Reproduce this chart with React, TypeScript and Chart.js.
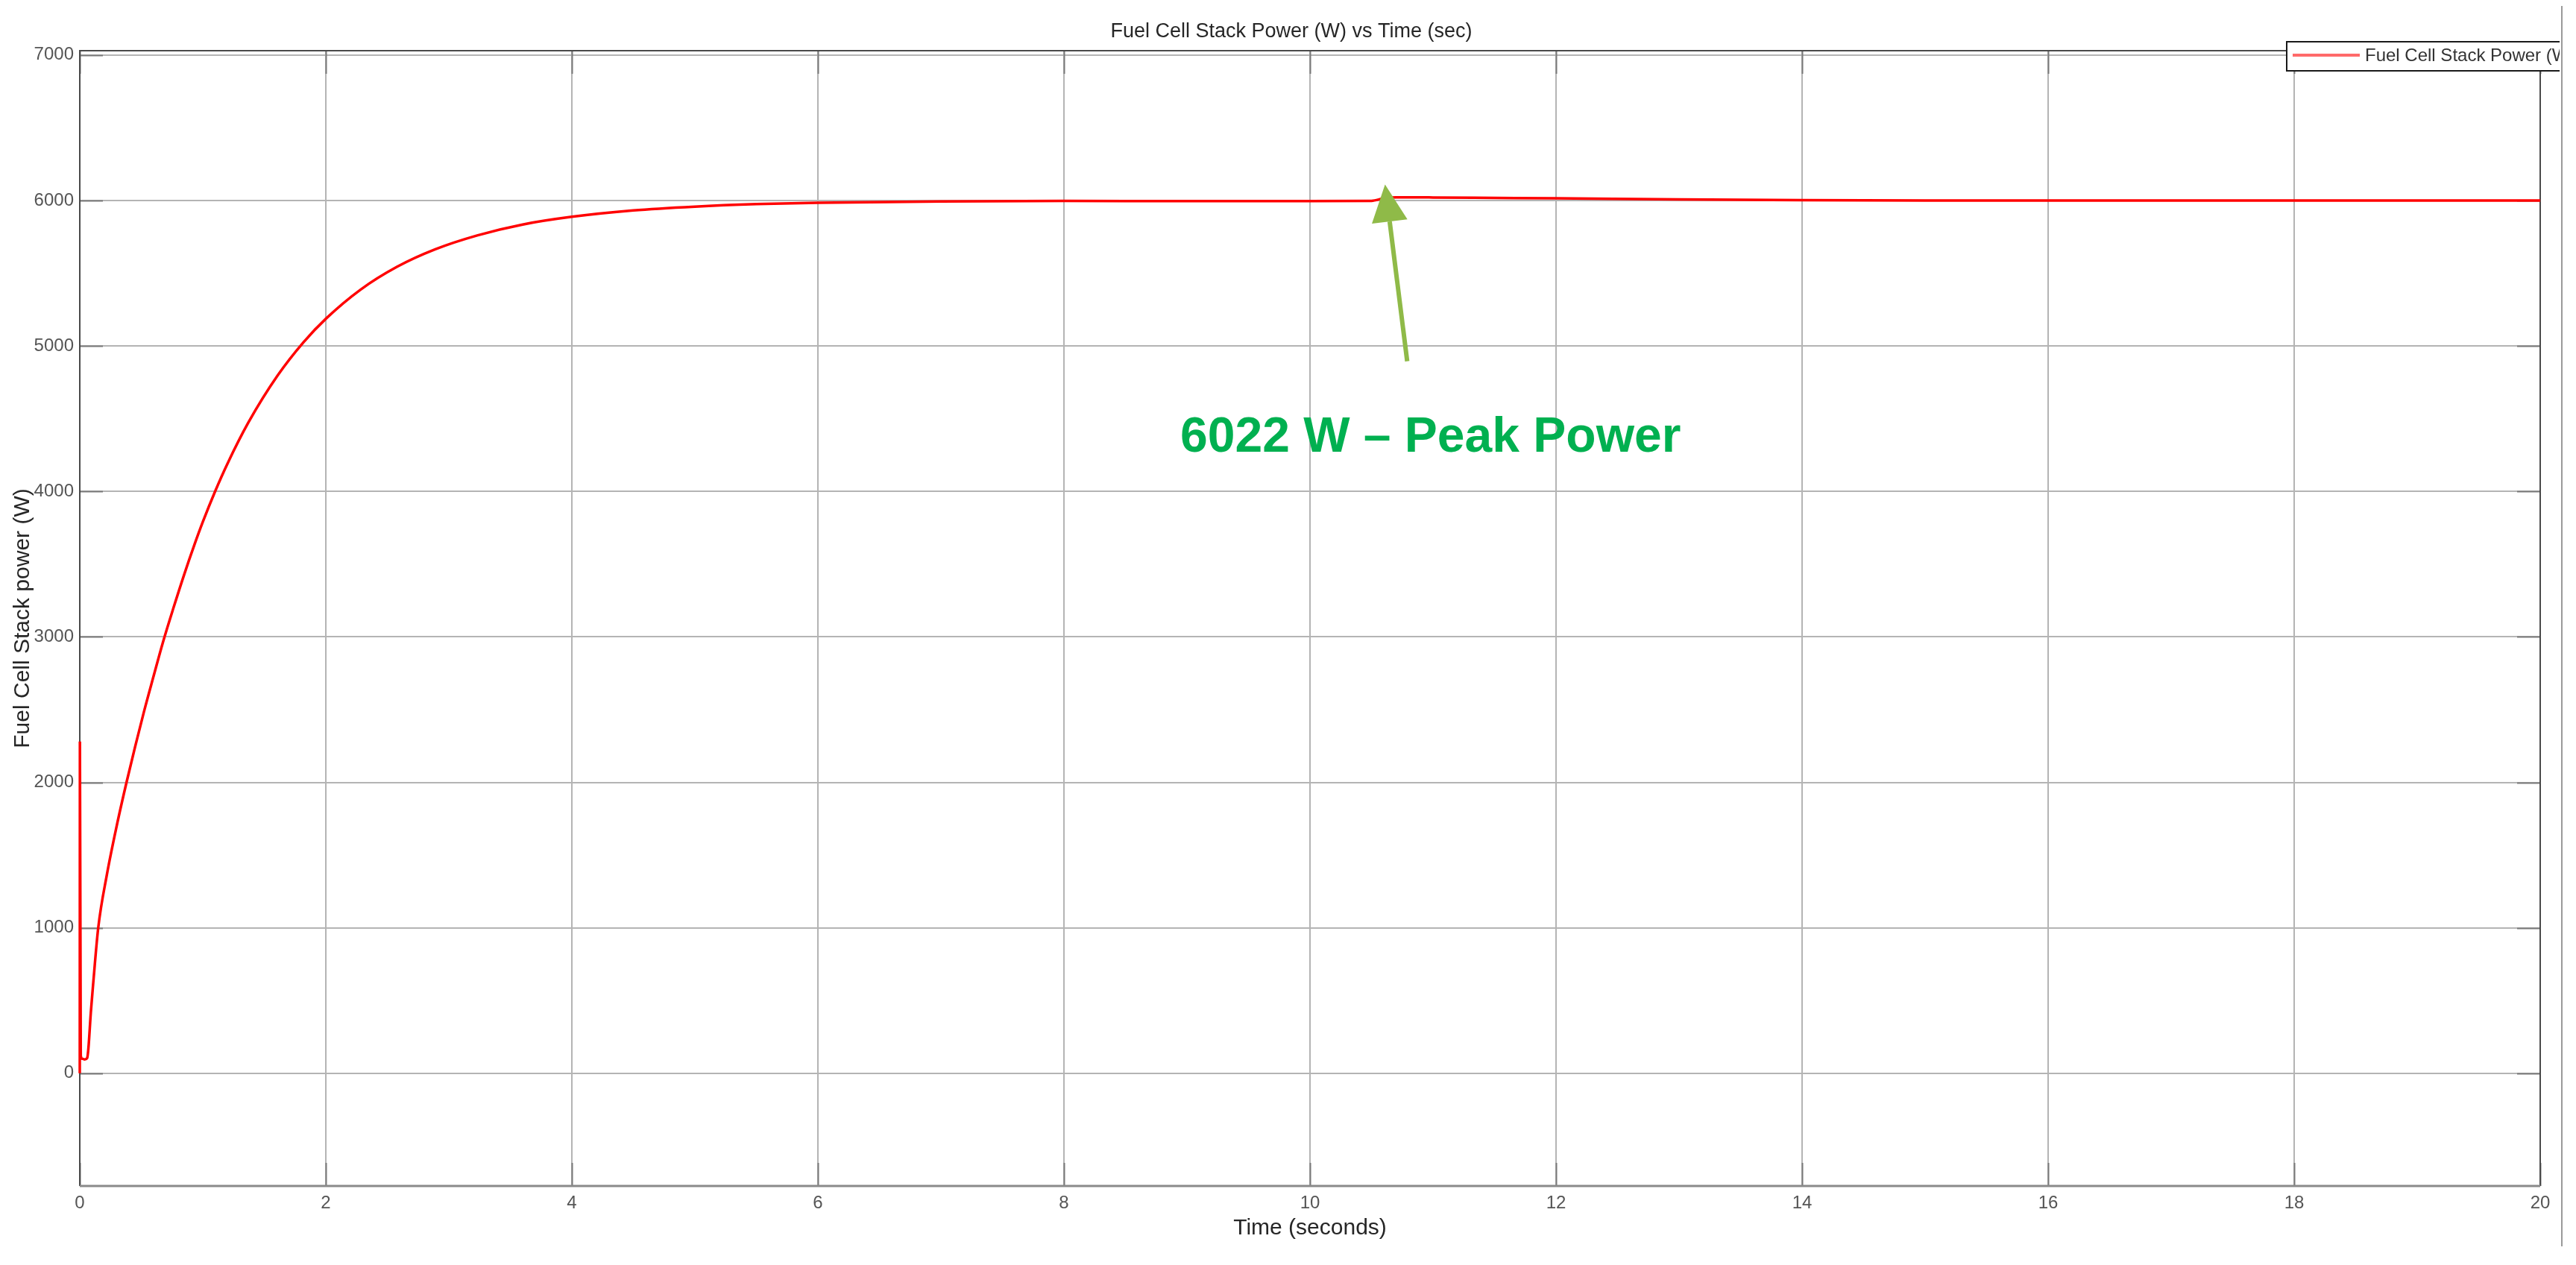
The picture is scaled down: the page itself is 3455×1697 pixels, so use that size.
import React, { useEffect, useRef } from "react";
import { Chart, registerables } from "chart.js";

Chart.register(...registerables);

// ---- data ----
const TIME = [
  0, 0.001, 0.008, 0.02, 0.04, 0.06, 0.07, 0.09, 0.11, 0.15, 0.22, 0.3, 0.38,
  0.45, 0.52, 0.6, 0.675, 0.76, 0.85, 0.93, 1.0, 1.1, 1.2, 1.37, 1.61, 1.82,
  2.0, 2.28, 2.58, 2.89, 3.23, 3.6, 4.0, 4.5, 5.0, 5.5, 6.0, 7.0, 8.0, 9.0,
  10.0, 10.5, 10.6, 10.7, 11.0, 11.5, 12.0, 13.0, 14.0, 15.0, 16.0, 18.0, 20.0,
];
const POWER = [
  0, 2280, 120, 100, 95, 105, 170, 420, 626, 1000, 1364, 1700, 2000, 2245,
  2480, 2730, 2960, 3195, 3432, 3629, 3790, 4000, 4190, 4473, 4799, 5027,
  5187, 5386, 5545, 5665, 5760, 5835, 5888, 5932, 5958, 5975, 5985, 5994,
  5997, 5996, 5996, 5998, 6015, 6022, 6021, 6018, 6015, 6007, 6002, 6000,
  6000, 6000, 6000,
];
const X_TICKS = [0, 2, 4, 6, 8, 10, 12, 14, 16, 18, 20];
const Y_TICKS = [0, 1000, 2000, 3000, 4000, 5000, 6000, 7000];

const TITLE = "Fuel Cell Stack Power (W) vs Time (sec)";
const X_LABEL = "Time (seconds)";
const Y_LABEL = "Fuel Cell Stack power (W)";
const SERIES_NAME = "Fuel Cell Stack Power (W)";
const ANNOT_TEXT = "6022 W \u2013 Peak Power";
// annotation anchors in data units
const ARROW_TIP = { x: 10.61, y: 6110 };
const ARROW_TAIL = { x: 10.79, y: 4895 };
const LABEL_AT = { x: 10.98, y: 4275 };

const FONT = '"Liberation Sans", Arial, Helvetica, sans-serif';

const decorPlugin = {
  id: "decor",
  beforeDatasetsDraw(chart: any) {
    const { ctx, chartArea: a, scales } = chart;
    ctx.save();
    // inward tick marks
    ctx.strokeStyle = "#7a7a7a";
    ctx.lineWidth = 2;
    const tl = 31;
    ctx.beginPath();
    X_TICKS.forEach((v) => {
      const px = Math.round(scales.x.getPixelForValue(v)) + 0.5;
      ctx.moveTo(px, a.bottom);
      ctx.lineTo(px, a.bottom - tl);
      ctx.moveTo(px, a.top);
      ctx.lineTo(px, a.top + tl);
    });
    Y_TICKS.forEach((v) => {
      const py = Math.round(scales.y.getPixelForValue(v)) + 0.5;
      ctx.moveTo(a.left, py);
      ctx.lineTo(a.left + tl, py);
      ctx.moveTo(a.right, py);
      ctx.lineTo(a.right - tl, py);
    });
    ctx.stroke();
    // frame
    ctx.lineWidth = 2;
    ctx.strokeStyle = "#4a4a4a";
    ctx.beginPath();
    ctx.moveTo(a.left, a.bottom);
    ctx.lineTo(a.left, a.top);
    ctx.lineTo(a.right, a.top);
    ctx.lineTo(a.right, a.bottom);
    ctx.stroke();
    ctx.lineWidth = 3;
    ctx.strokeStyle = "#8a8a8a";
    ctx.beginPath();
    ctx.moveTo(a.left, a.bottom);
    ctx.lineTo(a.right, a.bottom);
    ctx.stroke();
    ctx.restore();
  },
  afterDatasetsDraw(chart: any) {
    const { ctx, scales } = chart;
    const tx = scales.x.getPixelForValue(ARROW_TIP.x);
    const ty = scales.y.getPixelForValue(ARROW_TIP.y);
    const sx = scales.x.getPixelForValue(ARROW_TAIL.x);
    const sy = scales.y.getPixelForValue(ARROW_TAIL.y);
    const dx = tx - sx;
    const dy = ty - sy;
    const len = Math.hypot(dx, dy);
    const ux = dx / len;
    const uy = dy / len;
    const headLen = 50;
    const headHalf = 24;
    const bx = tx - ux * headLen;
    const by = ty - uy * headLen;
    const nx = -uy;
    const ny = ux;
    ctx.save();
    ctx.strokeStyle = "#8fba48";
    ctx.fillStyle = "#8fba48";
    ctx.lineWidth = 6;
    ctx.beginPath();
    ctx.moveTo(sx, sy);
    ctx.lineTo(bx, by);
    ctx.stroke();
    ctx.beginPath();
    ctx.moveTo(tx, ty);
    ctx.lineTo(bx + nx * headHalf, by + ny * headHalf);
    ctx.lineTo(bx - nx * headHalf, by - ny * headHalf);
    ctx.closePath();
    ctx.fill();
    // label
    ctx.fillStyle = "#00b050";
    ctx.font = `bold 66px ${FONT}`;
    ctx.textAlign = "center";
    ctx.textBaseline = "alphabetic";
    ctx.fillText(
      ANNOT_TEXT,
      scales.x.getPixelForValue(LABEL_AT.x),
      scales.y.getPixelForValue(LABEL_AT.y)
    );
    ctx.restore();
  },
  afterDraw(chart: any) {
    const { ctx, chartArea: a } = chart;
    const cx = (a.left + a.right) / 2;
    const cy = (a.top + a.bottom) / 2;
    ctx.save();
    // title
    ctx.fillStyle = "#262626";
    ctx.font = `27px ${FONT}`;
    ctx.textAlign = "center";
    ctx.textBaseline = "middle";
    ctx.fillText(TITLE, cx - 25, 35);
    // axis labels
    ctx.font = `30px ${FONT}`;
    ctx.fillText(X_LABEL, cx, 1640);
    ctx.save();
    ctx.translate(23, cy);
    ctx.rotate(-Math.PI / 2);
    ctx.fillText(Y_LABEL, 0, 0);
    ctx.restore();
    // figure edge
    ctx.strokeStyle = "#9a9a9a";
    ctx.lineWidth = 2;
    ctx.beginPath();
    ctx.moveTo(3428, 0);
    ctx.lineTo(3428, 1664);
    ctx.stroke();
    // legend (clipped at the figure edge)
    ctx.save();
    ctx.beginPath();
    ctx.rect(0, 0, 3425, 1681);
    ctx.clip();
    ctx.fillStyle = "#ffffff";
    ctx.fillRect(3059, 48, 420, 39);
    ctx.strokeStyle = "#1a1a1a";
    ctx.lineWidth = 2;
    ctx.strokeRect(3059, 48, 420, 39);
    ctx.strokeStyle = "#ff6a6a";
    ctx.lineWidth = 4;
    ctx.beginPath();
    ctx.moveTo(3067, 66);
    ctx.lineTo(3157, 66);
    ctx.stroke();
    ctx.fillStyle = "#333333";
    ctx.font = `24px ${FONT}`;
    ctx.textAlign = "left";
    ctx.textBaseline = "middle";
    ctx.fillText(SERIES_NAME, 3164, 67);
    ctx.restore();
    ctx.restore();
  },
};

export default function App() {
  const canvasRef = useRef<HTMLCanvasElement | null>(null);

  useEffect(() => {
    if (!canvasRef.current) return;
    const tickFont = { family: FONT, size: 24 };
    const chart = new Chart(canvasRef.current, {
      type: "line",
      data: {
        datasets: [
          {
            label: SERIES_NAME,
            data: TIME.map((t, i) => ({ x: t, y: POWER[i] })),
            borderColor: "#ff0000",
            backgroundColor: "#ff0000",
            borderWidth: 3.5,
            pointRadius: 0,
            cubicInterpolationMode: "monotone",
            clip: false,
          } as any,
        ],
      },
      options: {
        responsive: false,
        animation: false,
        devicePixelRatio: 1,
        layout: { padding: { left: 0, right: 40, top: 60, bottom: 0 } },
        plugins: {
          legend: { display: false },
          title: { display: false },
          tooltip: { enabled: false },
        },
        scales: {
          x: {
            type: "linear",
            min: 0,
            max: 20,
            afterBuildTicks: (s: any) => {
              s.ticks = X_TICKS.map((v) => ({ value: v }));
            },
            afterFit: (s: any) => {
              s.height = 98;
            },
            ticks: {
              font: tickFont,
              color: "#555555",
              padding: 9,
              maxRotation: 0,
              autoSkip: false,
              callback: (v: any) => String(v),
            },
            grid: { color: "#b4b4b4", lineWidth: 2, drawTicks: false },
            border: { display: false },
          },
          y: {
            type: "linear",
            min: -775,
            max: 7030,
            afterBuildTicks: (s: any) => {
              s.ticks = Y_TICKS.map((v) => ({ value: v }));
            },
            afterFit: (s: any) => {
              s.width = 99;
            },
            ticks: {
              font: tickFont,
              color: "#555555",
              padding: 8,
              autoSkip: false,
              callback: (v: any) => String(v),
            },
            grid: { color: "#b4b4b4", lineWidth: 2, drawTicks: false },
            border: { display: false },
          },
        },
      } as any,
      plugins: [decorPlugin],
    });
    return () => chart.destroy();
  }, []);

  return (
    <canvas
      ref={canvasRef}
      width={3439}
      height={1681}
      style={{ display: "block" }}
    />
  );
}
